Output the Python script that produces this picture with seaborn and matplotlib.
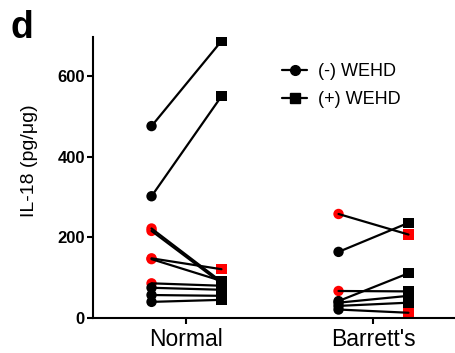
import numpy as np
import pandas as pd
import matplotlib
matplotlib.use("Agg")
import matplotlib.pyplot as plt
import seaborn as sns
from matplotlib.lines import Line2D

# ---- data ----
groups = ["Normal", "Barrett's"]
normal_minus = [476, 302, 222, 216, 148, 146, 86, 75, 57, 40]
normal_plus = [687, 550, 90, 86, 121, 92, 80, 70, 55, 45]
normal_minus_red = [0, 0, 1, 1, 1, 1, 1, 0, 0, 0]
normal_plus_red = [0, 0, 0, 0, 1, 0, 0, 0, 0, 0]
barrett_minus = [258, 164, 67, 42, 38, 30, 21]
barrett_plus = [207, 236, 66, 111, 55, 38, 13]
barrett_minus_red = [1, 0, 1, 0, 0, 0, 0]
barrett_plus_red = [1, 0, 0, 0, 0, 0, 1]
yticks = [0, 200, 400, 600]
legend_labels = ["(-) WEHD", "(+) WEHD"]

# ---- build long table ----
rows = []
offset = 0.187
pid = 0
for gi, (mv, pv, mr, pr) in enumerate([
        (normal_minus, normal_plus, normal_minus_red, normal_plus_red),
        (barrett_minus, barrett_plus, barrett_minus_red, barrett_plus_red)]):
    for a, b, ra, rb in zip(mv, pv, mr, pr):
        rows.append(dict(pair=pid, x=gi - offset, value=a, cond="minus",
                         col="red" if ra else "black"))
        rows.append(dict(pair=pid, x=gi + offset, value=b, cond="plus",
                         col="red" if rb else "black"))
        pid += 1
df = pd.DataFrame(rows)

sns.set_style("ticks")
plt.rcParams["font.family"] = ["Liberation Sans", "DejaVu Sans"]
for k in ["text.color", "axes.labelcolor", "xtick.color", "ytick.color",
          "axes.edgecolor"]:
    plt.rcParams[k] = "black"

W, H = 456, 353
fig = plt.figure(figsize=(W / 100, H / 100), dpi=100)
ax = fig.add_axes([93 / W, (H - 318) / H, 374 / W, (318 - 37) / H])

sns.scatterplot(data=df, x="x", y="value", hue="col",
                palette={"red": "#ff0000", "black": "black"},
                style="cond", markers={"minus": "o", "plus": "s"},
                s=56, linewidth=0, legend=False, ax=ax, zorder=2)
sns.lineplot(data=df, x="x", y="value", units="pair", estimator=None,
             color="black", lw=1.6, sort=False, legend=False, ax=ax, zorder=3)

ax.set_xlim(-0.5, 1.5)
ax.set_ylim(0, 697)
ax.set_xticks([0, 1])
ax.set_xticklabels(groups, fontsize=16.5)
ax.set_yticks(yticks)
ax.set_yticklabels([str(t) for t in yticks], fontsize=12, fontweight="bold")
ax.set_xlabel("")
ax.set_ylabel("IL-18 (pg/\u03bcg)", fontsize=14)
ax.yaxis.set_label_coords(-0.147, 0.56)
for s in ["top", "right"]:
    ax.spines[s].set_visible(False)
for s in ["left", "bottom"]:
    ax.spines[s].set_linewidth(1.5)
ax.tick_params(axis="both", length=4.3, width=1.5, color="black")
ax.tick_params(axis="y", pad=1.5)
ax.tick_params(axis="x", pad=3)

handles = [
    Line2D([], [], color="black", lw=1.6, marker="o", ms=7),
    Line2D([], [], color="black", lw=1.6, marker="s", ms=7),
]
fig.legend(handles, legend_labels, loc="upper left",
           bbox_to_anchor=(282 / W, (H - 63) / H), bbox_transform=fig.transFigure,
           frameon=False, fontsize=13, handlelength=1.4, handletextpad=0.6,
           labelspacing=0.6, borderpad=0, borderaxespad=0)

fig.text(11 / W, (H - 38) / H, "d", fontsize=27, fontweight="bold",
         ha="left", va="baseline")

fig.savefig("out.png", dpi=100)
